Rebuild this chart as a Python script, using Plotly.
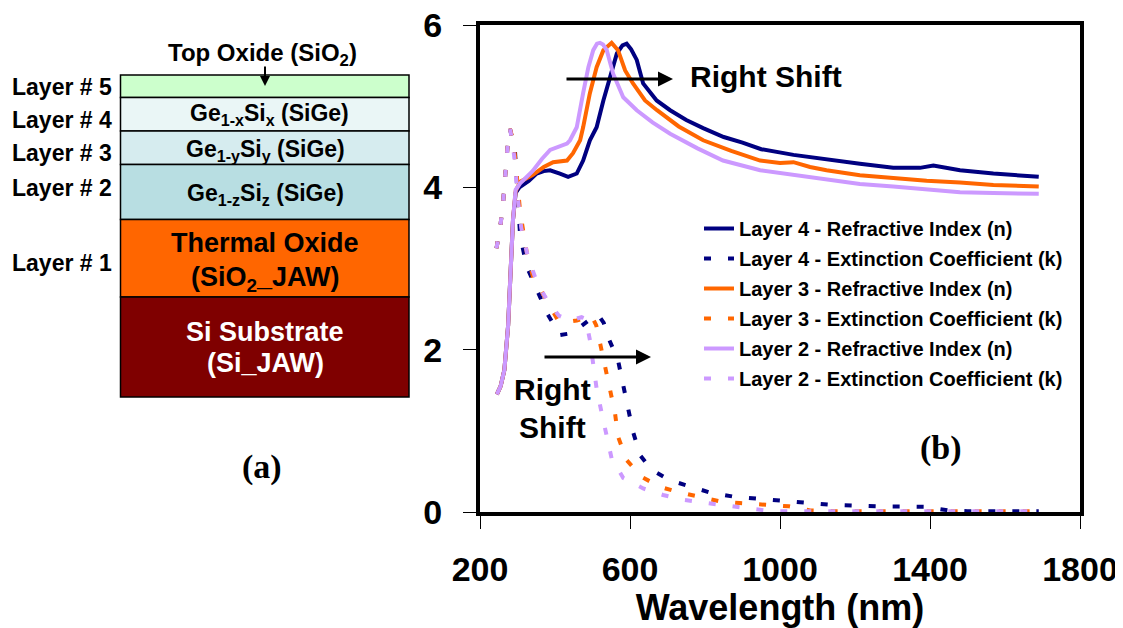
import plotly.graph_objects as go

# ---------------- data ----------------
wl_n4 = [245, 255, 265, 275, 282, 288, 295, 305, 330, 351, 370, 387, 413, 435, 458, 475, 493, 511, 529, 547, 565, 580, 591, 603, 618, 635, 671, 707, 750, 795, 850, 900, 950, 1036, 1124, 1213, 1302, 1373, 1409, 1430, 1480, 1569, 1690]
n4 = [1.45, 1.55, 1.75, 2.3, 3.0, 3.6, 3.93, 4.0, 4.08, 4.17, 4.2, 4.21, 4.17, 4.13, 4.17, 4.33, 4.58, 4.74, 5.07, 5.36, 5.65, 5.75, 5.77, 5.7, 5.57, 5.28, 5.07, 4.95, 4.83, 4.73, 4.62, 4.55, 4.47, 4.40, 4.34, 4.29, 4.24, 4.24, 4.27, 4.25, 4.21, 4.17, 4.13]

wl_k4 = [244, 255, 262, 267, 271, 276, 280, 287, 293, 298, 303, 307, 325, 352, 381, 413, 440, 467, 495, 515, 530, 541, 555, 568, 582, 595, 608, 627, 658, 707, 760, 813, 875, 947, 1013, 1074, 1133, 1261, 1389, 1420, 1450, 1500, 1690]
k4 = [3.25, 3.55, 3.84, 4.13, 4.44, 4.65, 4.72, 4.6, 4.46, 4.1, 3.75, 3.4, 3.02, 2.73, 2.43, 2.18, 2.2, 2.28, 2.38, 2.43, 2.33, 2.16, 2.0, 1.87, 1.56, 1.28, 0.99, 0.70, 0.52, 0.39, 0.31, 0.24, 0.19, 0.16, 0.13, 0.11, 0.09, 0.07, 0.065, 0.04, 0.02, 0.01, 0.01]

wl_n3 = [245, 255, 265, 275, 282, 288, 295, 307, 340, 370, 395, 432, 448, 467, 475, 493, 511, 529, 551, 568, 587, 608, 640, 672, 730, 795, 870, 947, 1000, 1036, 1080, 1124, 1213, 1302, 1391, 1480, 1569, 1690]
n3 = [1.45, 1.55, 1.75, 2.3, 3.0, 3.6, 3.95, 4.07, 4.15, 4.25, 4.31, 4.33, 4.42, 4.58, 4.74, 5.16, 5.48, 5.69, 5.78, 5.69, 5.44, 5.28, 5.07, 4.95, 4.75, 4.58, 4.45, 4.33, 4.30, 4.31, 4.25, 4.21, 4.15, 4.11, 4.08, 4.06, 4.03, 4.01]

wl_k3 = [244, 255, 262, 267, 271, 276, 280, 287, 293, 300, 307, 315, 325, 342, 378, 408, 430, 458, 480, 498, 510, 520, 533, 547, 560, 568, 591, 632, 680, 725, 778, 840, 893, 963, 1024, 1060, 1080, 1150, 1690]
k3 = [3.25, 3.55, 3.84, 4.13, 4.44, 4.65, 4.72, 4.6, 4.4, 4.0, 3.7, 3.47, 3.19, 2.88, 2.61, 2.36, 2.34, 2.36, 2.39, 2.41, 2.3, 2.08, 1.81, 1.5, 1.22, 0.93, 0.64, 0.43, 0.31, 0.25, 0.19, 0.13, 0.11, 0.09, 0.07, 0.04, 0.02, 0.01, 0.01]

wl_n2 = [245, 255, 265, 275, 282, 288, 295, 307, 340, 365, 387, 410, 432, 440, 458, 475, 489, 502, 512, 520, 528, 538, 555, 582, 618, 660, 707, 780, 848, 947, 1036, 1124, 1213, 1302, 1391, 1480, 1569, 1690]
n2 = [1.45, 1.55, 1.75, 2.3, 3.0, 3.6, 3.97, 4.05, 4.2, 4.35, 4.46, 4.5, 4.54, 4.58, 4.74, 5.16, 5.48, 5.69, 5.77, 5.78, 5.76, 5.69, 5.4, 5.11, 4.95, 4.8, 4.66, 4.48, 4.33, 4.21, 4.15, 4.09, 4.04, 4.01, 3.97, 3.94, 3.93, 3.92]

wl_k2 = [244, 255, 262, 267, 271, 276, 280, 287, 293, 300, 310, 328, 351, 380, 410, 440, 471, 482, 493, 502, 511, 524, 538, 551, 582, 635, 688, 742, 805, 860, 914, 960, 1000, 1690]
k2 = [3.25, 3.55, 3.84, 4.13, 4.44, 4.65, 4.72, 4.55, 4.3, 3.9, 3.5, 3.14, 2.84, 2.6, 2.42, 2.36, 2.40, 2.38, 2.12, 1.81, 1.52, 1.23, 0.95, 0.66, 0.42, 0.29, 0.21, 0.15, 0.11, 0.08, 0.04, 0.02, 0.01, 0.01]

x_ticks = [200, 600, 1000, 1400, 1800]
y_ticks = [0, 2, 4, 6]

series = [
    ("Layer 4 - Refractive Index (n)", wl_n4, n4, "#000080", "solid"),
    ("Layer 4 - Extinction Coefficient (k)", wl_k4, k4, "#000080", "dash"),
    ("Layer 3 - Refractive Index (n)", wl_n3, n3, "#FF6600", "solid"),
    ("Layer 3 - Extinction Coefficient (k)", wl_k3, k3, "#FF6600", "dash"),
    ("Layer 2 - Refractive Index (n)", wl_n2, n2, "#CC99FF", "solid"),
    ("Layer 2 - Extinction Coefficient (k)", wl_k2, k2, "#CC99FF", "dash"),
]

# ---------------- layout helpers ----------------
# the page body has an 8px margin, so the figure is drawn 8px smaller
OFF = 8
W, H = 1123 - OFF, 628 - OFF
L, R, T, B = 480, 1080, 25, 512   # plot area in window pixels


def px(x):
    return (x - L) / (R - L)


def py(y):
    return (B - y) / (B - T)


FONT = "Arial, Liberation Sans, sans-serif"
SERIF = "Times New Roman, Liberation Serif, serif"

fig = go.Figure()
for i, (name, xs, ys, col, kind) in enumerate(series):
    fig.add_trace(go.Scatter(
        x=xs, y=ys, mode="lines", name=f"<b>{name}</b>", legendgroup=f"g{i}",
        line=dict(color=col, width=4, dash="solid" if kind == "solid" else "7px,17px"),
    ))

shapes = []
annots = []

# layer stack (panel a)
stack = [
    (75, 97.5, "#CCFFCC"),
    (97.5, 131, "#EAF6F6"),
    (131, 164.5, "#D6ECEF"),
    (164.5, 219.5, "#B8DEE2"),
    (219.5, 297, "#FF6600"),
    (297, 397, "#7F0000"),
]
for y0, y1, c in stack:
    shapes.append(dict(type="rect", xref="paper", yref="paper",
                       x0=px(120.5), x1=px(409), y0=py(y1), y1=py(y0),
                       fillcolor=c, line=dict(color="black", width=1.5), layer="above"))


def text(x, y, s, size, color="black", xanchor="center", family=FONT):
    annots.append(dict(xref="paper", yref="paper", x=px(x), y=py(y), text=f"<b>{s}</b>",
                       showarrow=False, xanchor=xanchor, yanchor="middle",
                       font=dict(family=family, size=size, color=color)))


text(263, 54, "Top Oxide (SiO<sub>2</sub>)", 24)
annots.append(dict(xref="paper", yref="paper", x=px(265), y=py(86), ax=0, ay=-21, text="",
                   showarrow=True, arrowhead=2, arrowsize=1, arrowwidth=2, arrowcolor="black"))
for lab, yy in [("Layer # 5", 87), ("Layer # 4", 120), ("Layer # 3", 153), ("Layer # 2", 188), ("Layer # 1", 263)]:
    text(114, yy, lab, 23, xanchor="right")
text(269, 114, "Ge<sub>1-x</sub>Si<sub>x</sub> (SiGe)", 23)
text(265, 150, "Ge<sub>1-y</sub>Si<sub>y</sub> (SiGe)", 23)
text(265, 195, "Ge<sub>1-z</sub>Si<sub>z</sub> (SiGe)", 23)
text(265, 243, "Thermal Oxide", 27)
text(265, 279, "(SiO<sub>2</sub>_JAW)", 27)
text(265, 332, "Si Substrate", 27, color="white")
text(265, 363, "(Si_JAW)", 27, color="white")
text(262, 467, "(a)", 34, family=SERIF)
text(941, 448, "(b)", 34, family=SERIF)

# right shift annotations
text(766, 76, "Right Shift", 30)
annots.append(dict(xref="paper", yref="paper", x=px(673), y=py(79), ax=-108, ay=0, text="",
                   showarrow=True, arrowhead=2, arrowsize=1, arrowwidth=3, arrowcolor="black"))
text(552, 389, "Right", 30)
text(552, 427, "Shift", 30)
annots.append(dict(xref="paper", yref="paper", x=px(651), y=py(357), ax=-108, ay=0, text="",
                   showarrow=True, arrowhead=2, arrowsize=1, arrowwidth=3, arrowcolor="black"))

fig.update_layout(
    width=W, height=H,
    margin=dict(l=L - OFF, r=W - (R - OFF), t=T - OFF, b=H - (B - OFF), pad=0, autoexpand=False),
    plot_bgcolor="white", paper_bgcolor="white",
    font=dict(family=FONT, color="black"),
    showlegend=True,
    legend=dict(x=px(699), y=py(209), xanchor="left", yanchor="top",
                bgcolor="rgba(0,0,0,0)", borderwidth=0, tracegroupgap=1,
                font=dict(family=FONT, size=20, color="black")),
    shapes=shapes, annotations=annots,
    xaxis=dict(range=[200, 1800], tickvals=x_ticks, ticks="outside", ticklen=13, tickwidth=1,
               tickcolor="black", showline=True, linewidth=4, linecolor="black", mirror=True,
               showgrid=False, zeroline=False, ticklabelstandoff=11, automargin=False,
               ticklabeloverflow="allow",
               tickfont=dict(family=FONT, size=34, color="black", weight="bold"),
               title=dict(text="<b>Wavelength (nm)</b>", standoff=4,
                          font=dict(family=FONT, size=36, color="black"))),
    yaxis=dict(range=[0, 6], tickvals=y_ticks, ticks="outside", ticklen=13, tickwidth=1,
               tickcolor="black", showline=True, linewidth=4, linecolor="black", mirror=True,
               showgrid=False, zeroline=False, ticklabelstandoff=14, automargin=False,
               ticklabeloverflow="allow",
               tickfont=dict(family=FONT, size=34, color="black", weight="bold")),
)

fig.write_html("out.html")
